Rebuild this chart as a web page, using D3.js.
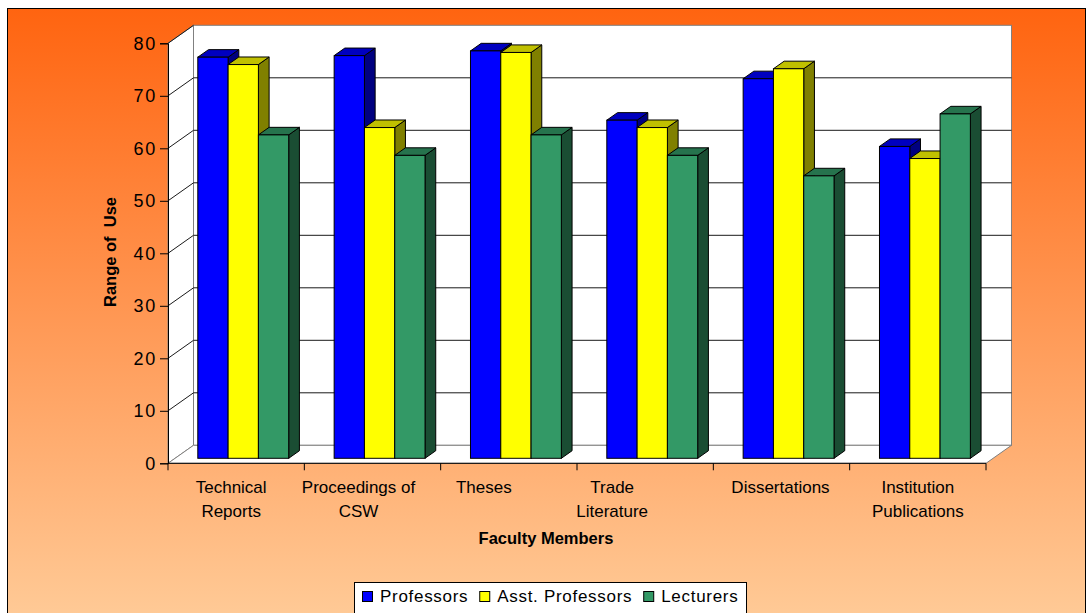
<!DOCTYPE html>
<html>
<head>
<meta charset="utf-8">
<script src="https://cdn.jsdelivr.net/npm/d3@7"></script>
<style>
	body { margin: 0; background: #fff; }
	svg { display: block; font-family: "Liberation Sans", Arial, sans-serif; }
</style>
</head>
<body>
<div id="chart"></div>
<script>
// chart values
var categories = ["Technical Reports", "Proceedings of CSW", "Theses", "Trade Literature", "Dissertations", "Institution Publications"];
var categoryLines = [["Technical", "Reports"], ["Proceedings of", "CSW"], ["Theses"], ["Trade", "Literature"], ["Dissertations"], ["Institution", "Publications"]];
var seriesNames = ["Professors", "Asst. Professors", "Lecturers"];
var professors = [76.4, 76.7, 77.6, 64.4, 72.3, 59.4];
var asstProfessors = [75.0, 63.0, 77.3, 63.0, 74.2, 57.1];
var lecturers = [61.6, 57.7, 61.6, 57.7, 53.8, 65.6];
var yTicks = [0, 10, 20, 30, 40, 50, 60, 70, 80];

var seriesValues = [professors, asstProfessors, lecturers];

var width = 1091,
	height = 613,
	plot = {left: 168, right: 986, top: 43.3, bottom: 463.3},
	depthX = 25.5,
	depthY = -18,
	barFront = 0.278,
	barBack = 0.698,
	labelShift = [-5, -14, -25, -33, -1, 0];

var colors = {
	front: ["#0000ff", "#ffff00", "#339966"],
	top: ["#0000c0", "#c0c000", "#26734d"],
	side: ["#000080", "#808000", "#1a4d33"]
};

var xScale = d3.scaleBand().domain(categories).range([plot.left, plot.right]).padding(0),
	xSub = d3.scaleBand().domain(seriesNames).range([0, xScale.bandwidth()]).paddingInner(0).paddingOuter(0.75),
	yScale = d3.scaleLinear().domain([0, 80]).range([plot.bottom, plot.top]);

var svg = d3.select("#chart").append("svg")
	.attr("width", width)
	.attr("height", height);

var grad = svg.append("defs").append("linearGradient")
	.attr("id", "bg")
	.attr("x1", 0).attr("y1", 0).attr("x2", 0).attr("y2", 1);
grad.append("stop").attr("offset", "0%").attr("stop-color", "#ff6410");
grad.append("stop").attr("offset", "100%").attr("stop-color", "#ffcc99");

// chart area
svg.append("rect")
	.attr("x", 7.5).attr("y", 8.5)
	.attr("width", 1078).attr("height", 620)
	.attr("fill", "url(#bg)")
	.attr("stroke", "#000");

function pt(x, y) { return x + "," + y; }

var backL = plot.left + depthX,
	backR = plot.right + depthX;

// walls and floor
svg.append("polygon")
	.attr("points", [pt(plot.left, plot.top), pt(backL, plot.top + depthY), pt(backL, plot.bottom + depthY), pt(plot.left, plot.bottom)].join(" "))
	.attr("fill", "#fff").attr("stroke", "#808080");
svg.append("rect")
	.attr("x", backL).attr("y", plot.top + depthY)
	.attr("width", backR - backL).attr("height", plot.bottom - plot.top)
	.attr("fill", "#fff").attr("stroke", "#808080");
svg.append("polygon")
	.attr("points", [pt(plot.left, plot.bottom), pt(plot.right, plot.bottom), pt(backR, plot.bottom + depthY), pt(backL, plot.bottom + depthY)].join(" "))
	.attr("fill", "#fff").attr("stroke", "#808080");

// gridlines
var grid = svg.append("g").attr("class", "grid");
grid.selectAll("line.back")
	.data(yTicks.filter(function(d) { return d > 0 && d < 80; }))
	.enter().append("line")
	.attr("x1", backL).attr("x2", backR)
	.attr("y1", function(d) { return yScale(d) + depthY; })
	.attr("y2", function(d) { return yScale(d) + depthY; })
	.attr("stroke", "#1a1a1a");
grid.selectAll("line.side")
	.data(yTicks.filter(function(d) { return d > 0; }))
	.enter().append("line")
	.attr("x1", plot.left).attr("x2", backL)
	.attr("y1", function(d) { return yScale(d); })
	.attr("y2", function(d) { return yScale(d) + depthY; })
	.attr("stroke", "#1a1a1a");

// bars, drawn series by series inside each group
var bars = [];
categories.forEach(function(c, i) {
	seriesNames.forEach(function(s, j) {
		bars.push({cat: c, series: s, j: j, value: seriesValues[j][i]});
	});
});

var fx = barFront * depthX,
	fy = barFront * depthY,
	dx = (barBack - barFront) * depthX,
	dy = (barBack - barFront) * depthY;

var barG = svg.append("g").attr("class", "bars")
	.selectAll("g")
	.data(bars)
	.enter().append("g");

barG.each(function(d) {
	var g = d3.select(this),
		x0 = xScale(d.cat) + xSub(d.series) + fx,
		x1 = x0 + xSub.bandwidth(),
		yt = yScale(d.value) + fy,
		yb = yScale(0) + fy;
	g.append("polygon")
		.attr("points", [pt(x1, yt), pt(x1 + dx, yt + dy), pt(x1 + dx, yb + dy), pt(x1, yb)].join(" "))
		.attr("fill", colors.side[d.j]).attr("stroke", "#000");
	g.append("polygon")
		.attr("points", [pt(x0, yt), pt(x1, yt), pt(x1 + dx, yt + dy), pt(x0 + dx, yt + dy)].join(" "))
		.attr("fill", colors.top[d.j]).attr("stroke", "#000");
	g.append("rect")
		.attr("x", x0).attr("y", yt)
		.attr("width", x1 - x0).attr("height", yb - yt)
		.attr("fill", colors.front[d.j]).attr("stroke", "#000");
});

// y axis
var yAxis = d3.axisLeft(yScale).tickValues(yTicks).tickSize(8).tickPadding(3);
var yG = svg.append("g")
	.attr("transform", "translate(" + plot.left + ",0)")
	.call(yAxis);
yG.select(".domain").attr("stroke", "#000");
yG.selectAll(".tick line").attr("stroke", "#000");
yG.selectAll(".tick text")
	.attr("fill", "#000")
	.style("font-size", "18px")
	.style("letter-spacing", "1.8px")
	.style("font-family", "Liberation Sans, Arial, sans-serif");

// x axis: line, boundary ticks, wrapped labels
svg.append("line")
	.attr("x1", plot.left).attr("x2", plot.right)
	.attr("y1", plot.bottom).attr("y2", plot.bottom)
	.attr("stroke", "#000");
svg.selectAll("line.xtick")
	.data(d3.range(categories.length + 1))
	.enter().append("line")
	.attr("x1", function(i) { return plot.left + i * xScale.step(); })
	.attr("x2", function(i) { return plot.left + i * xScale.step(); })
	.attr("y1", plot.bottom).attr("y2", plot.bottom + 7)
	.attr("stroke", "#000");

var xLab = svg.selectAll("text.xlab")
	.data(categories)
	.enter().append("text")
	.attr("class", "xlab")
	.attr("text-anchor", "middle")
	.style("font-size", "17px")
	.attr("fill", "#000");
xLab.each(function(d, i) {
	var cx = xScale(d) + xScale.bandwidth() / 2 + labelShift[i];
	d3.select(this).selectAll("tspan")
		.data(categoryLines[i])
		.enter().append("tspan")
		.attr("x", cx)
		.attr("y", function(t, k) { return 492.5 + k * 24.3; })
		.text(function(t) { return t; });
});

// axis titles
svg.append("text")
	.attr("x", 546).attr("y", 544)
	.attr("text-anchor", "middle")
	.style("font-size", "16.5px").style("font-weight", "bold")
	.text("Faculty Members");
svg.append("text")
	.attr("transform", "translate(116,252) rotate(-90)")
	.attr("text-anchor", "middle")
	.style("font-size", "16.5px").style("font-weight", "bold")
	.style("white-space", "pre")
	.text("Range of  Use");

// legend
var legend = svg.append("g").attr("class", "legend");
legend.append("rect")
	.attr("x", 354.5).attr("y", 582.5)
	.attr("width", 392).attr("height", 40)
	.attr("fill", "#fff").attr("stroke", "#000");
var lx = 362;
seriesNames.forEach(function(s, j) {
	legend.append("rect")
		.attr("x", lx + 0.5).attr("y", 591.5)
		.attr("width", 10).attr("height", 10)
		.attr("fill", colors.front[j]).attr("stroke", "#000");
	var t = legend.append("text")
		.attr("x", lx + 18).attr("y", 601.5)
		.style("font-size", "17px")
		.style("letter-spacing", "0.7px")
		.text(s);
	lx += 18 + t.node().getComputedTextLength() + 11;
});
</script>
</body>
</html>
